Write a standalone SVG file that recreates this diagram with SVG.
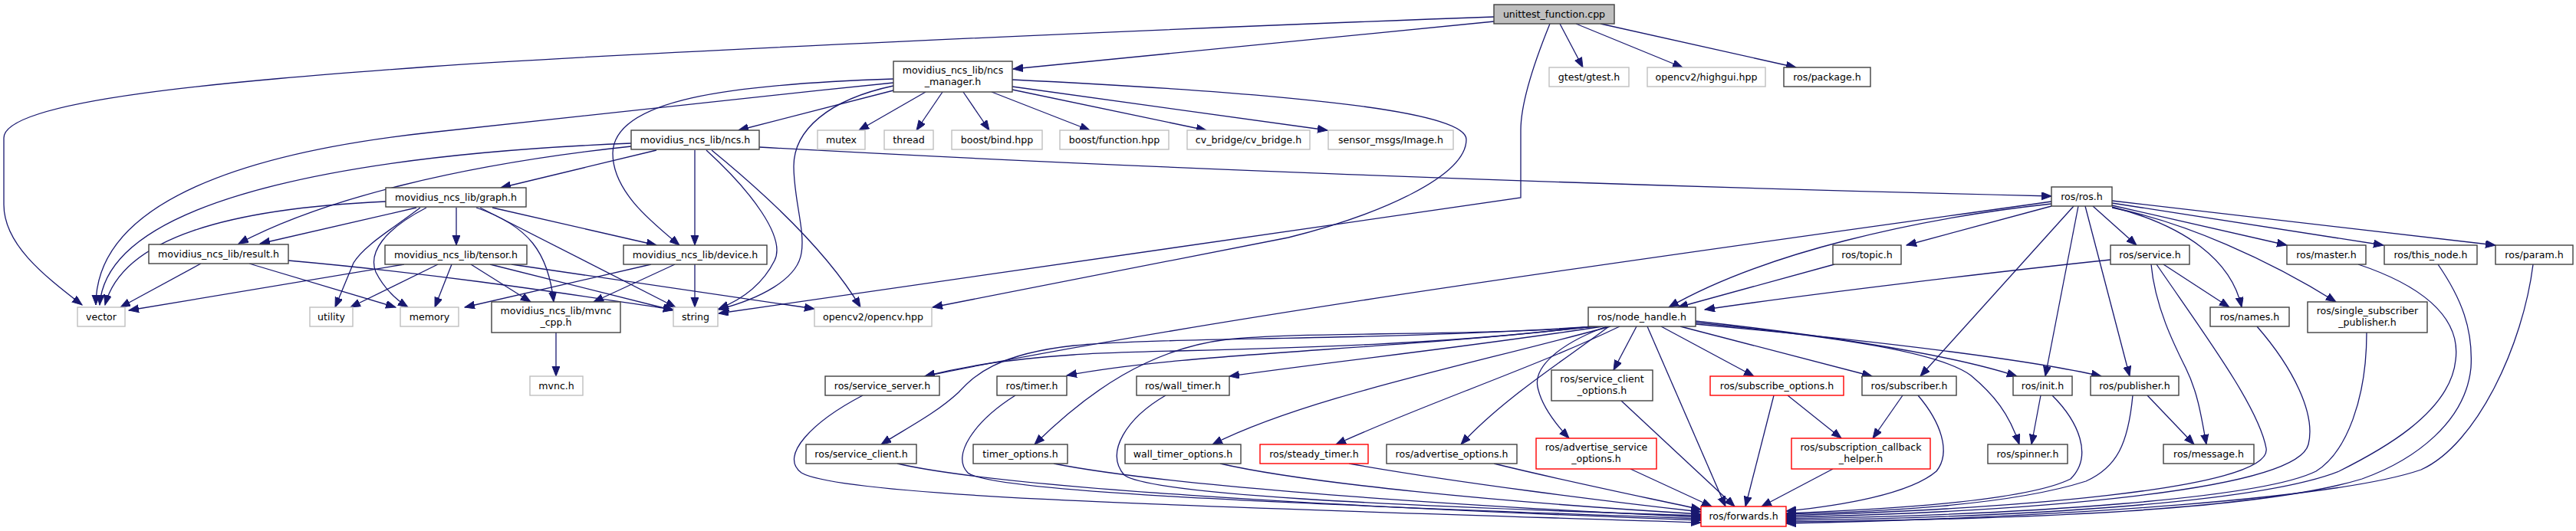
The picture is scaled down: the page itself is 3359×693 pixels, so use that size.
<svg xmlns="http://www.w3.org/2000/svg" width="3359" height="693" viewBox="0 0 3359 693">
<style>
rect{fill:#fff;stroke:#404040;stroke-width:1.4}
.g rect{stroke:#bfbfbf}
.r rect{stroke:#ff0000}
.root rect{fill:#bfbfbf}
text{font-family:"DejaVu Sans","Liberation Sans",sans-serif;font-size:12.6px;text-anchor:middle;fill:#000}
.e path{fill:none;stroke:#191970;stroke-width:1.3;marker-end:url(#a)}
</style>
<defs>
<marker id="a" markerUnits="userSpaceOnUse" markerWidth="14" markerHeight="11" refX="13" refY="5" orient="auto"><path d="M0,0 L13,5 L0,10 Z" fill="#191970" stroke="#191970" stroke-width="1"/></marker>
</defs>
<rect x="0" y="0" width="3359" height="693" style="fill:#fff;stroke:none"/>
<g class="e" id="edges">
<path d="M1948,28 L1321,90"/>
<path d="M1948,22 C1500,38 800,70 560,87 C300,106 5,130 5,180 L5,267 C5,318 55,358 107,398"/>
<path d="M2034,31 L2064,88"/>
<path d="M2055,31 L2194,88"/>
<path d="M2087,31 L2342,88"/>
<path d="M2021,31 C1995,95 1983,140 1983,170 L1983,258 L937,409"/>
<path d="M1207,120 L1120,170"/>
<path d="M1229,120 L1195,170"/>
<path d="M1256,120 L1290,170"/>
<path d="M1293,120 L1421,170"/>
<path d="M1320,117 L1573,170"/>
<path d="M1320,113 L1731,170"/>
<path d="M1320,104 C1750,125 1912,150 1912,182 C1912,230 1800,280 1680,310 L1216,401"/>
<path d="M1165,118 L963,170"/>
<path d="M1165,108 C900,135 600,168 560,173 C330,198 125,260 125,398"/>
<path d="M1165,103 C950,110 800,130 799,200 C799,250 850,290 886,320"/>
<path d="M1165,112 C1080,130 1035,170 1035,217 C1035,260 1050,300 1045,330 C1040,365 990,390 937,404"/>
<path d="M823,187 C500,200 140,250 130,398"/>
<path d="M823,191 C600,215 420,260 311,318"/>
<path d="M856,196 L653,245"/>
<path d="M906,196 L906,320"/>
<path d="M921,196 C980,250 1025,310 1010,340 C995,370 970,390 937,403"/>
<path d="M928,196 C1000,255 1080,330 1122,401"/>
<path d="M990,192 C1400,215 2000,240 2675,256"/>
<path d="M503,263 C300,272 160,310 137,398"/>
<path d="M543,271 L339,318"/>
<path d="M595,271 L595,320"/>
<path d="M642,271 L856,320"/>
<path d="M548,271 C510,300 475,320 461,343 L437,401"/>
<path d="M556,271 C500,300 480,330 490,355 C500,375 515,390 532,401"/>
<path d="M621,271 C690,295 715,330 722,394"/>
<path d="M626,271 L881,401"/>
<path d="M527,345 L168,405"/>
<path d="M571,345 L457,401"/>
<path d="M589,345 L567,401"/>
<path d="M614,345 L692,394"/>
<path d="M639,345 L878,405"/>
<path d="M667,345 L1062,403"/>
<path d="M849,345 L606,401"/>
<path d="M880,345 L774,394"/>
<path d="M906,345 L906,401"/>
<path d="M262,344 L157,401"/>
<path d="M325,344 L516,401"/>
<path d="M376,340 C600,360 780,390 878,404"/>
<path d="M725,434 L725,491"/>
<path d="M2675,263 C2200,330 1600,410 1206,491"/>
<path d="M2675,266 C2500,285 2300,330 2176,401"/>
<path d="M2392,345 L2188,401"/>
<path d="M2752,339 C2600,355 2350,385 2223,404"/>
<path d="M2675,269 L2486,320"/>
<path d="M2729,269 L2786,320"/>
<path d="M2754,262 L3254,320"/>
<path d="M2754,265 L3108,320"/>
<path d="M2754,268 L2982,320"/>
<path d="M2754,270 C2850,295 2910,340 2923,401"/>
<path d="M2754,271 C2850,290 2960,340 3046,394"/>
<path d="M2704,269 L2504,491"/>
<path d="M2710,269 L2667,491"/>
<path d="M2719,269 L2777,491"/>
<path d="M2821,345 L2907,401"/>
<path d="M2805,345 C2810,400 2835,450 2850,480 C2865,510 2870,540 2877,580"/>
<path d="M2812,345 C2870,430 2945,530 2955,585 C2965,640 2600,665 2329,673"/>
<path d="M2085,426 C1900,440 1700,432 1600,443 C1500,455 1420,510 1349,580"/>
<path d="M2080,426 C1800,445 1500,440 1400,451 C1300,462 1270,490 1250,512 C1220,540 1180,560 1149,580"/>
<path d="M2075,426 C1800,460 1500,455 1400,463 C1300,470 1250,480 1206,491"/>
<path d="M2078,426 C1800,458 1550,460 1391,490"/>
<path d="M2090,426 C1900,455 1750,470 1603,491"/>
<path d="M2100,426 C1900,480 1700,520 1581,580"/>
<path d="M2112,426 C2000,480 1850,530 1742,580"/>
<path d="M2098,426 C2040,470 1960,520 1905,580"/>
<path d="M2095,426 C2030,450 2000,480 2005,505 C2010,530 2030,555 2046,572"/>
<path d="M2134,426 L2104,483"/>
<path d="M2148,426 L2250,661"/>
<path d="M2166,426 L2287,491"/>
<path d="M2191,426 L2441,491"/>
<path d="M2211,419 C2400,440 2550,465 2630,491"/>
<path d="M2211,421 C2400,440 2530,460 2570,490 C2600,515 2620,540 2633,580"/>
<path d="M2211,423 C2450,445 2650,470 2740,491"/>
<path d="M2800,516 L2861,580"/>
<path d="M2481,516 L2442,572"/>
<path d="M2331,516 L2401,572"/>
<path d="M2661,516 L2649,580"/>
<path d="M2114,523 L2262,661"/>
<path d="M2126,612 L2232,661"/>
<path d="M2313,516 L2276,661"/>
<path d="M2390,612 L2297,661"/>
<path d="M1125,516 C1060,550 1015,595 1045,617 C1100,650 1600,662 2218,682"/>
<path d="M1170,605 C1300,635 1700,660 2218,679"/>
<path d="M1324,516 C1270,550 1240,595 1262,617 C1290,640 1600,655 2218,677"/>
<path d="M1374,605 C1500,630 1800,655 2218,675"/>
<path d="M1520,516 C1470,545 1440,590 1466,620 C1500,645 1800,660 2218,673"/>
<path d="M1591,605 C1700,630 1950,655 2218,671"/>
<path d="M1759,605 C1900,630 2100,655 2218,668"/>
<path d="M1948,605 C2050,630 2150,650 2218,665"/>
<path d="M2501,516 C2530,550 2545,590 2525,615 C2490,645 2400,660 2329,667"/>
<path d="M2676,516 C2710,550 2730,595 2700,625 C2640,655 2450,665 2329,670"/>
<path d="M2781,516 C2775,580 2760,610 2720,628 C2620,660 2450,668 2329,671"/>
<path d="M2943,426 C2990,480 3020,540 3010,580 C2995,640 2650,668 2329,675"/>
<path d="M3086,434 C3086,520 3060,590 3020,615 C2950,650 2650,672 2329,677"/>
<path d="M3075,345 C3150,370 3210,410 3202,470 C3195,540 3100,590 3050,615 C2950,655 2650,675 2329,679"/>
<path d="M3179,345 C3210,390 3225,430 3222,480 C3215,550 3150,600 3080,625 C2950,665 2650,678 2329,681"/>
<path d="M3303,345 C3290,450 3230,580 3157,613 C3050,650 2700,675 2329,683"/>
</g>
<g id="n0" class="root"><rect x="1948" y="6" width="157" height="25"/><text x="2026.5" y="23">unittest_function.cpp</text></g>
<g id="n1"><rect x="1165" y="80" width="155" height="40"/><text x="1242.5" y="96">movidius_ncs_lib/ncs</text><text x="1242.5" y="111">_manager.h</text></g>
<g id="n2" class="g"><rect x="101" y="401" width="62" height="25"/><text x="132" y="418">vector</text></g>
<g id="n3"><rect x="823" y="170" width="167" height="25"/><text x="906.5" y="187">movidius_ncs_lib/ncs.h</text></g>
<g id="n4"><rect x="503" y="245" width="183" height="25"/><text x="594.5" y="262">movidius_ncs_lib/graph.h</text></g>
<g id="n5"><rect x="194" y="319" width="182" height="25"/><text x="285" y="336">movidius_ncs_lib/result.h</text></g>
<g id="n6"><rect x="502" y="320" width="185" height="25"/><text x="594.5" y="337">movidius_ncs_lib/tensor.h</text></g>
<g id="n7"><rect x="813" y="320" width="187" height="25"/><text x="906.5" y="337">movidius_ncs_lib/device.h</text></g>
<g id="n8" class="g"><rect x="404" y="401" width="56" height="25"/><text x="432" y="418">utility</text></g>
<g id="n9" class="g"><rect x="522" y="401" width="76" height="25"/><text x="560" y="418">memory</text></g>
<g id="n10"><rect x="641" y="394" width="168" height="40"/><text x="725" y="410">movidius_ncs_lib/mvnc</text><text x="725" y="425">_cpp.h</text></g>
<g id="n11" class="g"><rect x="878" y="401" width="58" height="25"/><text x="907" y="418">string</text></g>
<g id="n12" class="g"><rect x="1062" y="401" width="153" height="25"/><text x="1138.5" y="418">opencv2/opencv.hpp</text></g>
<g id="n13" class="g"><rect x="691" y="491" width="69" height="25"/><text x="725.5" y="508">mvnc.h</text></g>
<g id="n14" class="g"><rect x="1066" y="170" width="62" height="25"/><text x="1097" y="187">mutex</text></g>
<g id="n15" class="g"><rect x="1153" y="170" width="64" height="25"/><text x="1185" y="187">thread</text></g>
<g id="n16" class="g"><rect x="1241" y="170" width="118" height="25"/><text x="1300" y="187">boost/bind.hpp</text></g>
<g id="n17" class="g"><rect x="1382" y="170" width="142" height="25"/><text x="1453" y="187">boost/function.hpp</text></g>
<g id="n18" class="g"><rect x="1548" y="170" width="160" height="25"/><text x="1628" y="187">cv_bridge/cv_bridge.h</text></g>
<g id="n19" class="g"><rect x="1732" y="170" width="163" height="25"/><text x="1813.5" y="187">sensor_msgs/Image.h</text></g>
<g id="n20" class="g"><rect x="2020" y="88" width="104" height="25"/><text x="2072" y="105">gtest/gtest.h</text></g>
<g id="n21" class="g"><rect x="2148" y="88" width="154" height="25"/><text x="2225" y="105">opencv2/highgui.hpp</text></g>
<g id="n22"><rect x="2326" y="88" width="113" height="25"/><text x="2382.5" y="105">ros/package.h</text></g>
<g id="n23"><rect x="2675" y="244" width="79" height="25"/><text x="2714.5" y="261">ros/ros.h</text></g>
<g id="n24"><rect x="2390" y="320" width="89" height="25"/><text x="2434.5" y="337">ros/topic.h</text></g>
<g id="n25"><rect x="2752" y="320" width="103" height="25"/><text x="2803.5" y="337">ros/service.h</text></g>
<g id="n26"><rect x="2982" y="320" width="103" height="25"/><text x="3033.5" y="337">ros/master.h</text></g>
<g id="n27"><rect x="3109" y="320" width="121" height="25"/><text x="3169.5" y="337">ros/this_node.h</text></g>
<g id="n28"><rect x="3254" y="320" width="101" height="25"/><text x="3304.5" y="337">ros/param.h</text></g>
<g id="n29"><rect x="2071" y="401" width="140" height="25"/><text x="2141" y="418">ros/node_handle.h</text></g>
<g id="n30"><rect x="2882" y="401" width="103" height="25"/><text x="2933.5" y="418">ros/names.h</text></g>
<g id="n31"><rect x="3009" y="394" width="156" height="40"/><text x="3087" y="410">ros/single_subscriber</text><text x="3087" y="425">_publisher.h</text></g>
<g id="n32"><rect x="1076" y="491" width="149" height="25"/><text x="1150.5" y="508">ros/service_server.h</text></g>
<g id="n33"><rect x="1300" y="491" width="91" height="25"/><text x="1345.5" y="508">ros/timer.h</text></g>
<g id="n34"><rect x="1482" y="491" width="121" height="25"/><text x="1542.5" y="508">ros/wall_timer.h</text></g>
<g id="n35"><rect x="2023" y="483" width="132" height="40"/><text x="2089" y="499">ros/service_client</text><text x="2089" y="514">_options.h</text></g>
<g id="n36" class="r"><rect x="2230" y="491" width="174" height="25"/><text x="2317" y="508">ros/subscribe_options.h</text></g>
<g id="n37"><rect x="2428" y="491" width="123" height="25"/><text x="2489.5" y="508">ros/subscriber.h</text></g>
<g id="n38"><rect x="2625" y="491" width="77" height="25"/><text x="2663.5" y="508">ros/init.h</text></g>
<g id="n39"><rect x="2726" y="491" width="115" height="25"/><text x="2783.5" y="508">ros/publisher.h</text></g>
<g id="n40"><rect x="1051" y="580" width="144" height="25"/><text x="1123" y="597">ros/service_client.h</text></g>
<g id="n41"><rect x="1269" y="580" width="123" height="25"/><text x="1330.5" y="597">timer_options.h</text></g>
<g id="n42"><rect x="1467" y="580" width="151" height="25"/><text x="1542.5" y="597">wall_timer_options.h</text></g>
<g id="n43" class="r"><rect x="1643" y="580" width="141" height="25"/><text x="1713.5" y="597">ros/steady_timer.h</text></g>
<g id="n44"><rect x="1808" y="580" width="170" height="25"/><text x="1893" y="597">ros/advertise_options.h</text></g>
<g id="n45" class="r"><rect x="2003" y="572" width="157" height="40"/><text x="2081.5" y="588">ros/advertise_service</text><text x="2081.5" y="603">_options.h</text></g>
<g id="n46" class="r"><rect x="2336" y="572" width="181" height="40"/><text x="2426.5" y="588">ros/subscription_callback</text><text x="2426.5" y="603">_helper.h</text></g>
<g id="n47"><rect x="2592" y="580" width="104" height="25"/><text x="2644" y="597">ros/spinner.h</text></g>
<g id="n48"><rect x="2821" y="580" width="118" height="25"/><text x="2880" y="597">ros/message.h</text></g>
<g id="n49" class="r"><rect x="2218" y="661" width="111" height="26"/><text x="2273.5" y="678">ros/forwards.h</text></g>
</svg>
